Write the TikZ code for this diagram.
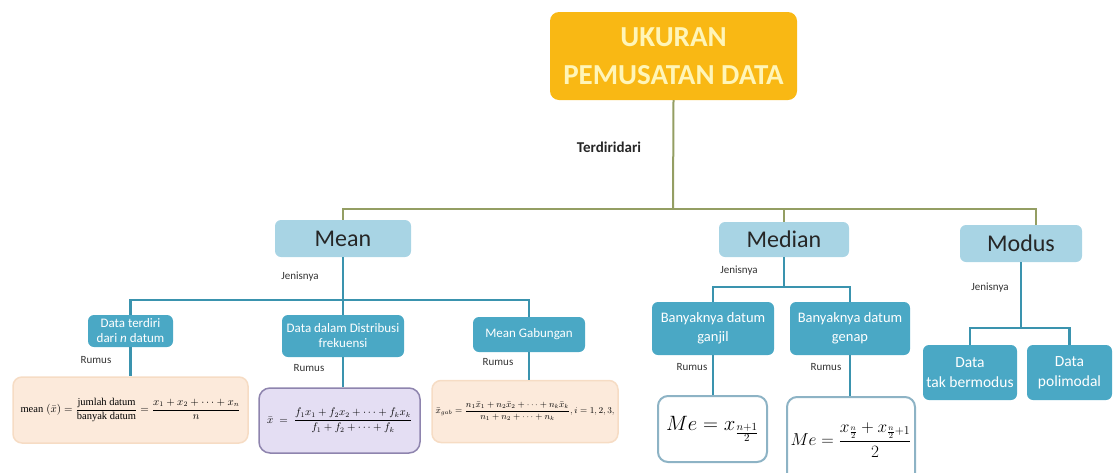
\documentclass[tikz,border=0pt]{standalone}
\usepackage{amsmath}
\usepackage{fontspec}
\setmainfont{Carlito}
\newfontfamily\serifx{Liberation Serif}
\definecolor{topor}{HTML}{F9B814}
\definecolor{topt}{HTML}{FFF5B8}
\definecolor{olive}{HTML}{949E63}
\definecolor{tline}{HTML}{3A93AE}
\definecolor{lblue}{HTML}{A8D4E4}
\definecolor{kteal}{HTML}{4AA8C5}
\definecolor{peach}{HTML}{FCEADB}
\definecolor{peachb}{HTML}{F6DCC4}
\definecolor{lav}{HTML}{E4DEF3}
\definecolor{lavb}{HTML}{8E84AE}
\definecolor{medb}{HTML}{8DB3C5}
\tikzset{
  sz/.style 2 args={minimum width=#1pt, minimum height=#2pt},
  base/.style={rounded corners=6pt, align=center, inner sep=1pt},
  topbox/.style={base, rounded corners=9pt, fill=topor, text=topt, font=\fontsize{29}{38}\selectfont\bfseries},
  lvl/.style={base, fill=lblue, text=black!85, font=\fontsize{24}{28}\selectfont},
  kid/.style={base, fill=kteal, text=white, font=\fontsize{13}{15}\selectfont},
  kidb/.style={base, fill=kteal, text=white, font=\fontsize{14.5}{19}\selectfont},
  kidm/.style={base, fill=kteal, text=white, font=\fontsize{15.5}{20}\selectfont},
  lab/.style={inner sep=0pt, text=black!80, font=\fontsize{11}{13}\selectfont},
  peachbox/.style={base, rounded corners=9pt, fill=peach, draw=peachb, line width=1.5pt},
  lavbox/.style={base, rounded corners=11pt, fill=lav, draw=lavb, line width=1.5pt},
  medbox/.style={base, rounded corners=10pt, fill=white, draw=medb, line width=2pt},
  oline/.style={draw=olive, line width=2pt},
  tl/.style={draw=tline, line width=2.6pt},
}
\begin{document}
\begin{tikzpicture}[x=1pt,y=-1pt]
\useasboundingbox (0,0) rectangle (1116,472);
\clip (0,0) rectangle (1116,472);
% top
\node[topbox, sz={247}{88}] (top) at (673.5,56) {UKURAN\\PEMUSATAN DATA};
\node[inner sep=0pt, font=\fontsize{15}{17}\selectfont\bfseries, text=black!85] (terd) at (609,147) {Terdiridari};
% level 2
\node[lvl, sz={136}{37}] (mean) at (343,238.5) {Mean};
\node[lvl, sz={130}{35}] (median) at (784,239.5) {Median};
\node[lvl, sz={122}{37}] (modus) at (1021,243.5) {Modus};
\coordinate (bus) at (673,209);
\coordinate (modtick) at (1036,225);
\draw[oline] (top.south) -- (bus);
\draw[oline] (mean.north) |- (bus) -| (modtick);
\draw[oline] (median.north) -- (median.north |- bus);
% Mean branch
\node[kid, sz={85}{32}] (c1) at (130.5,331) {Data terdiri\\dari \textit{n} datum};
\node[kid, sz={122}{42}] (c2) at (343,336) {Data dalam Distribusi\\frekuensi};
\node[kid, sz={112}{35}] (c3) at (529,334.5) {Mean Gabungan};
\coordinate (mbus) at (343,300);
\draw[tl] (mean.south) -- (mbus);
\draw[tl] (c1.north) |- (mbus) -| (c3.north);
\draw[tl] (mbus) -- (c2.north);
\node[lab] (j1) at (300,277) {Jenisnya};
% formulas mean
\node[peachbox, sz={235}{66}] (f1) at (130.5,410) {\fontsize{10.5}{12}\selectfont$\mbox{\serifx mean}\;(\bar{x}) = \dfrac{\mbox{\serifx jumlah datum}}{\mbox{\serifx banyak datum}} = \dfrac{x_1+x_2+\dots+x_n}{n}$};
\node[lavbox, sz={161}{65}] (f2) at (339.5,420.5) {\fontsize{10.5}{12}\selectfont$\bar{x} \;=\; \dfrac{f_1x_1+f_2x_2+\dots+f_kx_k}{f_1+f_2+\dots+f_k}$};
\node[peachbox, sz={186}{62}] (f3) at (525,411.5) {\fontsize{9}{11}\selectfont$\bar{x}_{gab} = \dfrac{n_1\bar{x}_1+n_2\bar{x}_2+\dots+n_k\bar{x}_k}{n_1+n_2+\dots+n_k}, i=1,2,3,$};
\draw[tl] (c1.south) -- (f1.north);
\draw[tl] (c2.south) -- (c2.south |- f2.north);
\draw[tl] (c3.south) -- (c3.south |- f3.north);
\node[lab] (r1) at (96,360) {Rumus};
\node[lab] (r2) at (309,368) {Rumus};
\node[lab] (r3) at (498,362) {Rumus};
% Median branch
\node[kidb, sz={122}{53}] (g1) at (713,328.5) {Banyaknya datum\\ganjil};
\node[kidb, sz={120}{53}] (g2) at (850,328.5) {Banyaknya datum\\genap};
\coordinate (dbus) at (784,287);
\draw[tl] (median.south) -- (dbus);
\draw[tl] (g1.north) |- (dbus) -| (g2.north);
\node[lab] (j2) at (739,271) {Jenisnya};
\node[medbox, sz={109}{66}] (m1) at (712.5,429) {\fontsize{22}{24}\selectfont$Me = x_{\frac{n+1}{2}}$};
\node[medbox, sz={128}{86}] (m2) at (851,440) {\fontsize{17}{20}\selectfont$Me = \dfrac{x_{\frac{n}{2}} + x_{\frac{n}{2}+1}}{2}$};
\draw[tl] (g1.south) -- (g1.south |- m1.north);
\draw[tl] (g2.south) -- (g2.south |- m2.north);
\node[lab] (r4) at (692,367) {Rumus};
\node[lab] (r5) at (826,367) {Rumus};
% Modus branch
\node[kidm, sz={94}{55}] (d1) at (970,372.5) {Data\\tak bermodus};
\node[kidm, sz={85}{55}] (d2) at (1069.5,372.5) {Data\\polimodal};
\coordinate (obus) at (1021,328);
\draw[tl] (modus.south) -- (obus);
\draw[tl] (d1.north) |- (obus) -| (d2.north);
\node[lab] (j3) at (990,288) {Jenisnya};
\end{tikzpicture}
\end{document}
